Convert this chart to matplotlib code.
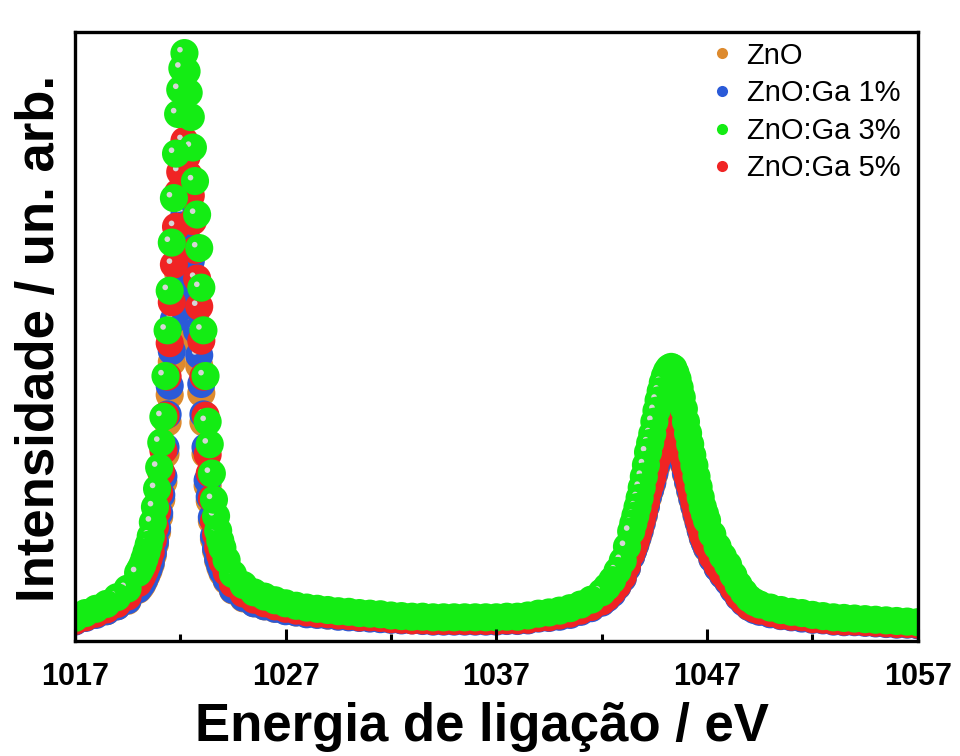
"""
Zn 2p XPS spectra of ZnO and Ga-doped ZnO films
"""

import numpy as np
import matplotlib
matplotlib.use("Agg")
import matplotlib.pyplot as plt
from matplotlib.path import Path
from matplotlib.collections import PathCollection
from matplotlib.lines import Line2D
from matplotlib.transforms import IdentityTransform

# Binding energy grid (eV), finer around the two Zn 2p lines
energy = [
    1017.0, 1017.5, 1018.0, 1018.5, 1019.0, 1019.5,
    1020.0, 1020.1, 1020.2, 1020.3, 1020.4, 1020.5,
    1020.6, 1020.7, 1020.8, 1020.9, 1021.0, 1021.1, 1021.2, 1021.3, 1021.4, 1021.5,
    1021.6, 1021.7, 1021.8, 1021.9, 1022.0, 1022.1, 1022.2, 1022.3, 1022.4, 1022.5,
    1022.6, 1022.7, 1022.8, 1022.9, 1023.0, 1023.1, 1023.2, 1023.3, 1023.4,
    1023.5, 1023.6, 1023.7, 1023.8, 1023.9, 1024.0, 1024.2,
    1024.5, 1025.0, 1025.5, 1026.0, 1026.5, 1027.0, 1027.5, 1028.0, 1028.5,
    1029.0, 1029.5, 1030.0, 1030.5, 1031.0, 1031.5, 1032.0, 1032.5, 1033.0,
    1033.5, 1034.0, 1034.5, 1035.0, 1035.5, 1036.0, 1036.5, 1037.0,
    1037.5, 1038.0, 1038.5, 1039.0, 1039.5, 1040.0, 1040.5, 1041.0, 1041.5,
    1042.0, 1042.25, 1042.5, 1042.75, 1043.0, 1043.2,
    1043.4, 1043.5, 1043.6, 1043.7, 1043.8, 1043.9, 1044.0, 1044.1, 1044.2,
    1044.3, 1044.4, 1044.5, 1044.6, 1044.7, 1044.8, 1044.9, 1045.0, 1045.1,
    1045.2, 1045.3, 1045.4, 1045.5, 1045.6, 1045.7, 1045.8, 1045.9, 1046.0,
    1046.1, 1046.2, 1046.3, 1046.4, 1046.5, 1046.6, 1046.7, 1046.8, 1046.9,
    1047.0, 1047.25, 1047.5, 1047.75, 1048.0, 1048.25, 1048.5, 1048.75,
    1049.0, 1049.25, 1049.5, 1050.0, 1050.5, 1051.0, 1051.5,
    1052.0, 1052.5, 1053.0, 1053.5, 1054.0, 1054.5, 1055.0, 1055.5, 1056.0,
    1056.5, 1057.0,
]

zno = [
    3.3, 3.9, 4.4, 4.9, 5.7, 6.6,
    8.4, 8.8, 9.3, 10.0, 10.8, 11.6,
    12.6, 14.1, 15.9, 17.9, 20.4, 23.2, 26.1, 30.7, 35.9, 40.4,
    45.8, 50.8, 55.9, 60.4, 63.1, 65.5, 67.3, 65.2, 62.8, 60.0,
    56.6, 52.8, 49.0, 45.2, 40.7, 35.9, 30.7, 25.5, 23.0,
    19.7, 16.7, 14.8, 13.2, 12.1, 11.2, 9.9,
    8.3, 7.0, 6.2, 5.7, 5.3, 5.0, 4.7, 4.5, 4.4,
    4.2, 4.1, 4.0, 3.9, 3.8, 3.7, 3.6, 3.5, 3.5,
    3.4, 3.3, 3.3, 3.3, 3.3, 3.3, 3.3, 3.3,
    3.4, 3.4, 3.5, 3.8, 3.9, 4.1, 4.4, 4.9, 5.5,
    6.4, 7.1, 7.9, 9.0, 10.3, 12.0,
    13.9, 14.9, 15.8, 16.9, 18.0, 19.3, 20.6, 22.1, 23.6,
    24.8, 25.9, 27.4, 28.7, 30.0, 31.1, 32.2, 33.0, 33.6,
    34.0, 34.1, 34.0, 33.4, 32.6, 31.6, 30.4, 29.0, 27.4,
    26.0, 24.6, 23.3, 22.0, 20.6, 19.4, 18.1, 16.9, 16.1,
    15.2, 13.5, 12.0, 10.8, 9.8, 8.5, 7.3, 6.4,
    5.6, 5.2, 4.9, 4.5, 4.2, 4.0, 3.8,
    3.6, 3.5, 3.3, 3.2, 3.2, 3.1, 3.0, 2.9, 2.9,
    2.8, 2.7,
]

ga_1 = [
    3.2, 3.8, 4.3, 4.9, 5.7, 6.7,
    8.5, 9.0, 9.5, 10.2, 11.0, 11.9,
    12.9, 14.5, 16.3, 18.5, 21.0, 24.0, 27.0, 31.8, 37.2, 41.9,
    47.6, 52.8, 58.1, 62.8, 65.6, 68.2, 70.0, 67.8, 65.3, 62.4,
    58.8, 54.8, 50.9, 46.9, 42.2, 37.2, 31.8, 26.4, 23.7,
    20.3, 17.2, 15.2, 13.5, 12.4, 11.5, 10.1,
    8.4, 7.1, 6.2, 5.7, 5.3, 4.9, 4.7, 4.4, 4.3,
    4.2, 4.0, 3.9, 3.8, 3.7, 3.6, 3.5, 3.4, 3.4,
    3.3, 3.2, 3.2, 3.2, 3.2, 3.2, 3.2, 3.2,
    3.3, 3.3, 3.4, 3.7, 3.8, 4.0, 4.3, 4.8, 5.4,
    6.3, 7.0, 7.8, 9.0, 10.3, 12.0,
    13.9, 14.9, 15.9, 17.0, 18.1, 19.4, 20.8, 22.2, 23.8,
    24.9, 26.1, 27.6, 29.0, 30.3, 31.4, 32.5, 33.3, 33.9,
    34.3, 34.4, 34.3, 33.7, 32.9, 31.9, 30.6, 29.2, 27.6,
    26.2, 24.8, 23.4, 22.1, 20.8, 19.5, 18.2, 17.0, 16.1,
    15.3, 13.5, 12.0, 10.8, 9.7, 8.4, 7.2, 6.3,
    5.6, 5.1, 4.8, 4.4, 4.1, 3.9, 3.7,
    3.5, 3.4, 3.2, 3.1, 3.1, 3.0, 2.9, 2.8, 2.7,
    2.7, 2.6,
]

ga_3 = [
    3.8, 4.6, 5.3, 6.1, 7.2, 8.6,
    11.2, 11.8, 12.5, 13.5, 14.6, 15.8,
    17.2, 19.5, 22.0, 25.0, 28.5, 32.6, 36.8, 43.5, 51.0, 57.5,
    65.4, 72.7, 80.0, 86.5, 90.5, 94.0, 96.5, 93.5, 90.0, 86.0,
    81.0, 75.5, 70.0, 64.5, 58.0, 51.0, 43.5, 36.0, 32.3,
    27.5, 23.2, 20.5, 18.1, 16.5, 15.3, 13.3,
    11.0, 9.2, 8.0, 7.3, 6.7, 6.2, 5.8, 5.5, 5.3,
    5.1, 4.9, 4.8, 4.6, 4.5, 4.4, 4.2, 4.1, 4.0,
    4.0, 3.9, 3.9, 3.9, 3.9, 3.9, 3.9, 3.9,
    4.0, 4.0, 4.2, 4.5, 4.7, 5.0, 5.4, 6.0, 6.8,
    8.0, 8.9, 10.0, 11.5, 13.2, 15.5,
    18.0, 19.3, 20.6, 22.0, 23.5, 25.2, 27.0, 28.9, 31.0,
    32.5, 34.0, 36.0, 37.8, 39.5, 41.0, 42.4, 43.5, 44.3,
    44.8, 45.0, 44.8, 44.0, 43.0, 41.6, 40.0, 38.1, 36.0,
    34.1, 32.3, 30.5, 28.8, 27.0, 25.3, 23.6, 22.0, 20.9,
    19.8, 17.5, 15.5, 13.9, 12.5, 10.8, 9.2, 8.0,
    7.0, 6.4, 6.0, 5.5, 5.1, 4.8, 4.6,
    4.3, 4.1, 3.9, 3.8, 3.7, 3.6, 3.5, 3.4, 3.3,
    3.2, 3.1,
]

ga_5 = [
    3.3, 3.9, 4.5, 5.2, 6.1, 7.3,
    9.5, 10.1, 10.7, 11.5, 12.4, 13.5,
    14.6, 16.6, 18.7, 21.3, 24.3, 27.7, 31.3, 37.0, 43.4, 48.9,
    55.6, 61.8, 68.0, 73.6, 77.0, 79.9, 82.1, 79.5, 76.5, 73.1,
    68.9, 64.2, 59.5, 54.9, 49.3, 43.4, 37.0, 30.6, 27.5,
    23.4, 19.7, 17.5, 15.4, 14.1, 13.0, 11.3,
    9.4, 7.8, 6.8, 6.2, 5.7, 5.3, 5.0, 4.7, 4.5,
    4.4, 4.2, 4.1, 3.9, 3.9, 3.8, 3.6, 3.5, 3.4,
    3.4, 3.3, 3.3, 3.3, 3.3, 3.3, 3.3, 3.3,
    3.4, 3.4, 3.5, 3.8, 3.9, 4.2, 4.5, 5.0, 5.6,
    6.5, 7.2, 8.1, 9.2, 10.6, 12.4,
    14.3, 15.3, 16.3, 17.4, 18.6, 19.9, 21.3, 22.8, 24.5,
    25.6, 26.8, 28.4, 29.8, 31.1, 32.3, 33.3, 34.2, 34.8,
    35.2, 35.4, 35.2, 34.6, 33.8, 32.7, 31.5, 30.0, 28.4,
    26.9, 25.5, 24.1, 22.7, 21.3, 20.0, 18.7, 17.4, 16.6,
    15.7, 13.9, 12.4, 11.1, 10.0, 8.7, 7.4, 6.5,
    5.7, 5.3, 5.0, 4.6, 4.2, 4.0, 3.9,
    3.6, 3.5, 3.3, 3.2, 3.2, 3.1, 3.0, 2.9, 2.8,
    2.8, 2.7,
]

labels = ["ZnO", "ZnO:Ga 1%", "ZnO:Ga 3%", "ZnO:Ga 5%"]
colors = ["#dd8a2e", "#2a5ad8", "#14ec14", "#f02424"]
series = [zno, ga_1, ga_3, ga_5]
# drawing order: the 3% sample sits on top of the others
draw_order = [0, 1, 3, 2]

plt.rcParams["font.family"] = ["Liberation Sans", "DejaVu Sans"]

fig = plt.figure(figsize=(9.6, 7.56), dpi=100)
ax = fig.add_axes([0.078, 0.152, 0.878, 0.806])

# shaded-ball marker: big disc followed by a small light spot (upper left)
circle = Path.unit_circle()
ball = Path(circle.vertices * 0.5, circle.codes)
spot = Path(circle.vertices * 0.1 + np.array([-0.16, 0.12]), circle.codes)

for k, idx in enumerate(draw_order):
    # high energy first, so each ball hides the spot of its right neighbour
    pts = np.column_stack([energy, series[idx]])[::-1]
    coll = PathCollection(
        [ball, spot],
        sizes=[410],
        offsets=np.repeat(pts, 2, axis=0),
        offset_transform=ax.transData,
        transform=IdentityTransform(),
        facecolors=[colors[idx], "#d6d6d6"],
        edgecolors="none",
        zorder=1 + k * 0.1,
    )
    ax.add_collection(coll)

ax.set_xlim(1017, 1057)
ax.set_ylim(0, 100)

ax.set_xticks([1017, 1027, 1037, 1047, 1057])
ax.set_xticks([1022, 1032, 1042, 1052], minor=True)
ax.set_yticks([])
ax.tick_params(axis="x", which="major", direction="in", length=9, width=2.2,
               labelsize=22, pad=15)
ax.tick_params(axis="x", which="minor", direction="in", length=5, width=2.2)
for lab in ax.get_xticklabels():
    lab.set_fontweight("bold")
for sp in ax.spines.values():
    sp.set_linewidth(2.4)

ax.set_xlabel("Energia de ligação / eV", fontsize=38, fontweight="bold")
ax.xaxis.set_label_coords(0.483, -0.1)
ax.set_ylabel("Intensidade / un. arb.", fontsize=38, fontweight="bold")
ax.yaxis.set_label_coords(-0.012, 0.496)

handles = [Line2D([], [], linestyle="none", marker="o", markersize=8,
                  markerfacecolor=c, markeredgecolor="none") for c in colors]
ax.legend(handles, labels, loc="upper right", bbox_to_anchor=(0.993, 1.003),
          frameon=False, fontsize=21, handlelength=0.7, handletextpad=0.5,
          labelspacing=0.33, borderaxespad=0)

fig.savefig("out.png", dpi=100)
plt.close(fig)
